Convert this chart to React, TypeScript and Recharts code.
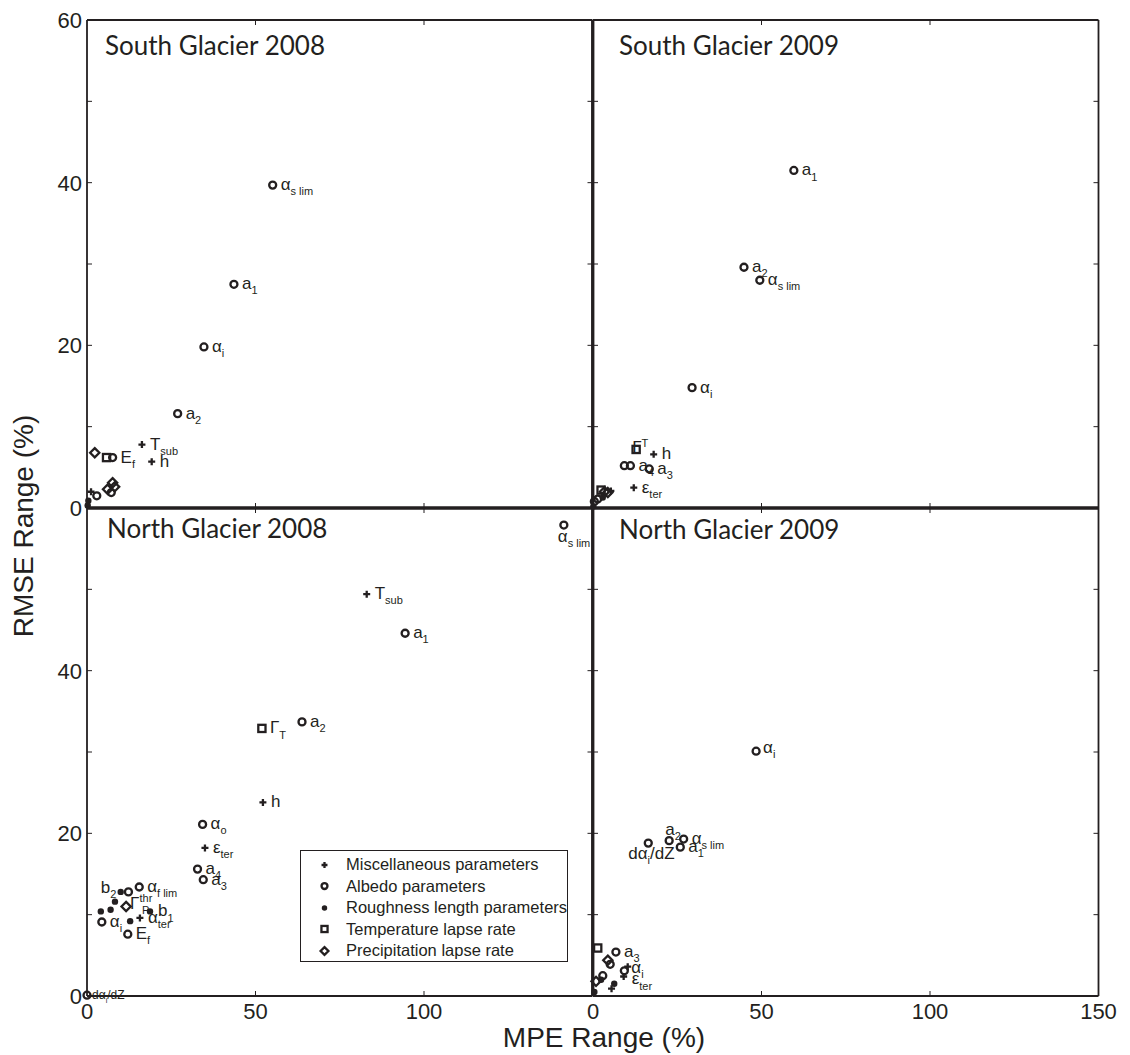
import React from 'react';
import { ScatterChart, Scatter, XAxis, YAxis, Legend } from 'recharts';

const INK = '#231f20';
const SANS = '"Liberation Sans", Arial, Helvetica, sans-serif';
const TITLE_FONT = 'Lato, "Open Sans", sans-serif';

type Pt = { x: number; y: number; label?: string; sub?: string; sup?: string; post?: string };

// series names / marker kinds, same order in every panel
const seriesNames = [
  'Miscellaneous parameters',
  'Albedo parameters',
  'Roughness length parameters',
  'Temperature lapse rate',
  'Precipitation lapse rate',
];
const seriesKinds = ['plus', 'circle', 'dot', 'square', 'diamond'];

const xTicks = [0, 50, 100, 150];
const xTopTicks = [50, 100];
const yTicks = [0, 10, 20, 30, 40, 50, 60];
const yRightTicks = [10, 20, 30, 40, 50];

// South Glacier 2008
const south08Misc: Pt[] = [
  { x: 16.3, y: 7.8, label: 'T', sub: 'sub' },
  { x: 19.2, y: 5.7, label: 'h' },
  { x: 1.2, y: 2.0 },
];
const south08Albedo: Pt[] = [
  { x: 55.1, y: 39.7, label: 'α', sub: 's lim' },
  { x: 43.6, y: 27.5, label: 'a', sub: '1' },
  { x: 34.7, y: 19.8, label: 'α', sub: 'i' },
  { x: 26.9, y: 11.6, label: 'a', sub: '2' },
  { x: 7.6, y: 6.2, label: 'E', sub: 'f' },
  { x: 7.2, y: 1.9 },
  { x: 2.9, y: 1.5 },
];
const south08Rough: Pt[] = [{ x: 0.4, y: 0.9 }, { x: 0.2, y: 0.3 }];
const south08Temp: Pt[] = [{ x: 5.8, y: 6.2 }];
const south08Precip: Pt[] = [
  { x: 2.3, y: 6.8 },
  { x: 6.1, y: 2.3 },
  { x: 7.6, y: 3.1 },
  { x: 8.2, y: 2.6 },
];

// South Glacier 2009
const south09Misc: Pt[] = [
  { x: 18.0, y: 6.6, label: 'h' },
  { x: 12.1, y: 2.5, label: 'ε', sub: 'ter' },
  { x: 5.3, y: 2.1 },
];
const south09Albedo: Pt[] = [
  { x: 59.6, y: 41.5, label: 'a', sub: '1' },
  { x: 44.8, y: 29.6, label: 'a', sub: '2' },
  { x: 49.5, y: 28.0, label: 'α', sub: 's lim' },
  { x: 29.4, y: 14.8, label: 'α', sub: 'i' },
  { x: 9.3, y: 5.2 },
  { x: 11.1, y: 5.2, label: 'a', sub: '4' },
  { x: 16.7, y: 4.8, label: 'a', sub: '3' },
  { x: 1.4, y: 1.1 },
  { x: 0.4, y: 0.8 },
];
const south09Rough: Pt[] = [{ x: 2.9, y: 1.3 }, { x: 0.1, y: 0.2 }];
const south09Temp: Pt[] = [{ x: 12.8, y: 7.2, label: 'Γ', sup: 'T' }, { x: 2.4, y: 2.2 }];
const south09Precip: Pt[] = [{ x: 3.4, y: 2.0 }, { x: 4.4, y: 1.9 }];

// North Glacier 2008
const north08Misc: Pt[] = [
  { x: 83.0, y: 49.4, label: 'T', sub: 'sub' },
  { x: 52.2, y: 23.8, label: 'h' },
  { x: 35.0, y: 18.2, label: 'ε', sub: 'ter' },
  { x: 15.7, y: 9.6, label: 'α', sub: 'ter' },
];
const north08Albedo: Pt[] = [
  { x: 141.5, y: 57.9, label: 'α', sub: 's lim' },
  { x: 94.4, y: 44.6, label: 'a', sub: '1' },
  { x: 63.8, y: 33.7, label: 'a', sub: '2' },
  { x: 34.3, y: 21.1, label: 'α', sub: 'o' },
  { x: 32.8, y: 15.6, label: 'a', sub: '4' },
  { x: 34.5, y: 14.3, label: 'a', sub: '3' },
  { x: 15.5, y: 13.4, label: 'α', sub: 'f lim' },
  { x: 12.3, y: 12.8 },
  { x: 4.4, y: 9.1, label: 'α', sub: 'i' },
  { x: 12.1, y: 7.6, label: 'E', sub: 'f' },
  { x: 0.0, y: 0.1, label: 'dα', sub: 'i', post: '/dZ' },
];
const north08Rough: Pt[] = [
  { x: 10.0, y: 12.8, label: 'b', sub: '2' },
  { x: 8.3, y: 11.6 },
  { x: 4.1, y: 10.4 },
  { x: 7.0, y: 10.6 },
  { x: 18.7, y: 10.4, label: 'b', sub: '1' },
  { x: 12.8, y: 9.2 },
];
const north08Temp: Pt[] = [{ x: 51.9, y: 32.9, label: 'Γ', sub: 'T' }];
const north08Precip: Pt[] = [{ x: 11.6, y: 11.0, label: 'Γ', sup: 'thr', sub: 'P' }];

// North Glacier 2009
const north09Misc: Pt[] = [
  { x: 10.3, y: 3.6 },
  { x: 9.1, y: 2.4, label: 'ε', sub: 'ter' },
  { x: 5.5, y: 0.9 },
];
const north09Albedo: Pt[] = [
  { x: 48.4, y: 30.1, label: 'α', sub: 'i' },
  { x: 16.4, y: 18.8, label: 'dα', sub: 'i', post: '/dZ' },
  { x: 22.6, y: 19.1, label: 'a', sub: '2' },
  { x: 26.9, y: 19.3, label: 'α', sub: 's lim' },
  { x: 25.9, y: 18.3, label: 'a', sub: '1' },
  { x: 6.8, y: 5.4, label: 'a', sub: '3' },
  { x: 5.1, y: 3.9 },
  { x: 9.3, y: 3.1, label: 'α', sub: 'i' },
  { x: 2.9, y: 2.5 },
];
const north09Rough: Pt[] = [{ x: 6.3, y: 1.5 }, { x: 0.4, y: 0.5 }, { x: 2.4, y: 2.0 }];
const north09Temp: Pt[] = [{ x: 1.4, y: 5.9 }];
const north09Precip: Pt[] = [{ x: 4.4, y: 4.4 }, { x: 0.9, y: 1.8 }];

// label placement tweaks (everything else sits just right of its marker)
const labelNudge: Record<string, { dx: number; dy: number; fs?: number }> = {
  'n08:α s lim': { dx: -6, dy: 17 },
  'n08:dα i': { dx: 5, dy: 4, fs: 12 },
  'n08:b 2': { dx: -20, dy: 1 },
  'n08:Γ P': { dx: 4, dy: 2 },
  'n09:a 2': { dx: -4, dy: -6 },
  'n09:dα i': { dx: -20, dy: 16 },
  'n09:α i': { dx: 7, dy: 2 },
  'n09:ε ter': { dx: 8, dy: 8 },
  's09:Γ ': { dx: -4, dy: 4 },
};

const M = 70;
const TICK = 5;

function Marker({ kind, cx, cy, s = 1 }: { kind: string; cx: number; cy: number; s?: number }) {
  switch (kind) {
    case 'plus':
      return (
        <path
          d={`M${cx - 3.5 * s},${cy}H${cx + 3.5 * s}M${cx},${cy - 3.5 * s}V${cy + 3.5 * s}`}
          stroke={INK}
          strokeWidth={2.3}
        />
      );
    case 'circle':
      return <circle cx={cx} cy={cy} r={3.5 * s} fill="none" stroke={INK} strokeWidth={2.3} />;
    case 'dot':
      return <circle cx={cx} cy={cy} r={3.2 * s} fill={INK} />;
    case 'square':
      return (
        <rect
          x={cx - 3.6 * s}
          y={cy - 3.6 * s}
          width={7.2 * s}
          height={7.2 * s}
          fill="none"
          stroke={INK}
          strokeWidth={2.3}
        />
      );
    default:
      return (
        <path
          d={`M${cx},${cy - 4.6 * s}L${cx + 4.6 * s},${cy}L${cx},${cy + 4.6 * s}L${cx - 4.6 * s},${cy}Z`}
          fill="none"
          stroke={INK}
          strokeWidth={2.3}
        />
      );
  }
}

function PointLabel({ cx, cy, pt, panel }: { cx: number; cy: number; pt: Pt; panel: string }) {
  if (!pt.label) return null;
  const nudge = labelNudge[`${panel}:${pt.label} ${pt.sub ?? ''}`] || { dx: 8, dy: 5 };
  const fs = nudge.fs ?? 17;
  const sfs = Math.round(fs * 0.62);
  const x0 = cx + nudge.dx;
  const y0 = cy + nudge.dy;
  return (
    <text x={x0} y={y0} fontSize={fs} fill={INK} fontFamily={SANS}>
      {pt.label}
      {pt.sup && (
        <tspan dy={-fs * 0.4} fontSize={sfs}>
          {pt.sup}
        </tspan>
      )}
      {pt.sub && (
        <tspan
          x={pt.sup ? x0 + fs * 0.7 : undefined}
          dy={pt.sup ? fs * 0.7 : fs * 0.3}
          fontSize={sfs}
        >
          {pt.sub}
        </tspan>
      )}
      {pt.post && (
        <tspan dy={-fs * 0.3} fontSize={fs}>
          {pt.post}
        </tspan>
      )}
    </text>
  );
}

function makeXTick(side: 'top' | 'bottom', labels: number[]) {
  return (props: any) => {
    const { x, y, payload } = props;
    const v = payload.value;
    const dir = side === 'bottom' ? -1 : 1;
    return (
      <g>
        {v > 0 && v < 150 && <line x1={x} y1={y} x2={x} y2={y + dir * TICK} stroke={INK} strokeWidth={1} />}
        {labels.includes(v) && (
          <text x={x} y={y + 23} textAnchor="middle" fontSize={22} fontFamily={SANS} fill={INK}>
            {v}
          </text>
        )}
      </g>
    );
  };
}

function makeYTick(side: 'left' | 'right', labels: number[]) {
  return (props: any) => {
    const { x, y, payload } = props;
    const v = payload.value;
    const dir = side === 'left' ? 1 : -1;
    return (
      <g>
        {v > 0 && v < 60 && <line x1={x} y1={y} x2={x + dir * TICK} y2={y} stroke={INK} strokeWidth={1} />}
        {labels.includes(v) && (
          <text x={x - 5} y={y + 8} textAnchor="end" fontSize={22} fontFamily={SANS} fill={INK}>
            {v}
          </text>
        )}
      </g>
    );
  };
}

const renderLegend = (props: any) => {
  const payload = [...(props.payload || [])].sort(
    (a: any, b: any) => seriesNames.indexOf(a.value) - seriesNames.indexOf(b.value),
  );
  return (
    <div
      style={{
        width: 268,
        height: 112,
        border: `1.5px solid ${INK}`,
        boxSizing: 'border-box',
        background: '#fff',
        paddingTop: 3,
      }}
    >
      {payload.map((e: any) => {
        const kind = seriesKinds[seriesNames.indexOf(e.value)];
        return (
          <div
            key={e.value}
            style={{
              display: 'flex',
              alignItems: 'center',
              height: 21.5,
              fontFamily: SANS,
              fontSize: 16.5,
              color: INK,
              whiteSpace: 'nowrap',
            }}
          >
            <svg width={45} height={20} style={{ flex: 'none' }}>
              <Marker kind={kind} cx={23.5} cy={10} s={0.85} />
            </svg>
            <span>{e.value}</span>
          </div>
        );
      })}
    </div>
  );
};

type PanelProps = {
  id: string;
  px: number;
  py: number;
  pw: number;
  ph: number;
  series: Pt[][];
  xLabels: number[];
  yLabels: number[];
  edges: { top: number; right: number; bottom: number; left: number };
  showLegend?: boolean;
};

function Panel({ id, px, py, pw, ph, series, xLabels, yLabels, edges, showLegend }: PanelProps) {
  // axes are 1px thick so recharts draws them; margins shrink by 1 to keep the plot box in place
  const m = M - 1;
  return (
    <div style={{ position: 'absolute', left: px - M, top: py - M }}>
      <ScatterChart width={pw + 2 * M} height={ph + 2 * M} margin={{ top: m, right: m, bottom: m, left: m }}>
        <XAxis
          xAxisId="b"
          type="number"
          dataKey="x"
          domain={[0, 150]}
          ticks={xTicks}
          interval={0}
          orientation="bottom"
          height={1}
          tickSize={0}
          tickMargin={0}
          tickLine={false}
          axisLine={{ stroke: INK, strokeWidth: edges.bottom }}
          tick={makeXTick('bottom', xLabels)}
        />
        <XAxis
          xAxisId="t"
          type="number"
          dataKey="x"
          domain={[0, 150]}
          ticks={xTopTicks}
          interval={0}
          orientation="top"
          height={1}
          tickSize={0}
          tickMargin={0}
          tickLine={false}
          axisLine={{ stroke: INK, strokeWidth: edges.top }}
          tick={makeXTick('top', [])}
          allowDataOverflow
        />
        <YAxis
          yAxisId="l"
          type="number"
          dataKey="y"
          domain={[0, 60]}
          ticks={yTicks}
          interval={0}
          orientation="left"
          width={1}
          tickSize={0}
          tickMargin={0}
          tickLine={false}
          axisLine={{ stroke: INK, strokeWidth: edges.left }}
          tick={makeYTick('left', yLabels)}
        />
        <YAxis
          yAxisId="r"
          type="number"
          dataKey="y"
          domain={[0, 60]}
          ticks={yRightTicks}
          interval={0}
          orientation="right"
          width={1}
          tickSize={0}
          tickMargin={0}
          tickLine={false}
          axisLine={{ stroke: INK, strokeWidth: edges.right }}
          tick={makeYTick('right', [])}
          allowDataOverflow
        />
        {series.map((data, i) => (
          <Scatter
            key={seriesNames[i]}
            name={seriesNames[i]}
            data={data}
            xAxisId="b"
            yAxisId="l"
            fill={INK}
            isAnimationActive={false}
            shape={(p: any) => (
              <g>
                <Marker kind={seriesKinds[i]} cx={p.cx} cy={p.cy} />
                <PointLabel cx={p.cx} cy={p.cy} pt={p.payload} panel={id} />
              </g>
            )}
          />
        ))}
        {showLegend && (
          <Legend
            layout="vertical"
            align="center"
            verticalAlign="middle"
            content={renderLegend}
            wrapperStyle={{ left: 283, top: 412, width: 268, height: 112 }}
          />
        )}
      </ScatterChart>
    </div>
  );
}

const OUT = 1.8;
const IN = 2.8;

export default function App() {
  const X0 = 87;
  const XM = 592.5;
  const W = 505.5;
  const Y0 = 20;
  const YM = 508;
  const H = 488;
  return (
    <div style={{ position: 'absolute', left: 0, top: 0, width: 1130, height: 1055, background: '#fff' }}>
      <Panel
        id="s08"
        px={X0}
        py={Y0}
        pw={W}
        ph={H}
        series={[south08Misc, south08Albedo, south08Rough, south08Temp, south08Precip]}
        xLabels={[]}
        yLabels={[0, 20, 40, 60]}
        edges={{ top: OUT, left: OUT, right: IN, bottom: IN }}
      />
      <Panel
        id="s09"
        px={XM}
        py={Y0}
        pw={W}
        ph={H}
        series={[south09Misc, south09Albedo, south09Rough, south09Temp, south09Precip]}
        xLabels={[]}
        yLabels={[]}
        edges={{ top: OUT, left: IN, right: OUT, bottom: IN }}
      />
      <Panel
        id="n08"
        px={X0}
        py={YM}
        pw={W}
        ph={H}
        series={[north08Misc, north08Albedo, north08Rough, north08Temp, north08Precip]}
        xLabels={[0, 50, 100]}
        yLabels={[0, 20, 40]}
        edges={{ top: IN, left: OUT, right: IN, bottom: OUT }}
        showLegend
      />
      <Panel
        id="n09"
        px={XM}
        py={YM}
        pw={W}
        ph={H}
        series={[north09Misc, north09Albedo, north09Rough, north09Temp, north09Precip]}
        xLabels={[0, 50, 100, 150]}
        yLabels={[]}
        edges={{ top: IN, left: IN, right: OUT, bottom: OUT }}
      />
      <svg width={1130} height={1055} style={{ position: 'absolute', left: 0, top: 0, pointerEvents: 'none' }}>
        <g fontFamily={TITLE_FONT} fontSize={26} fill={INK}>
          <text x={105} y={55}>South Glacier 2008</text>
          <text x={619} y={55}>South Glacier 2009</text>
          <text x={107} y={538}>North Glacier 2008</text>
          <text x={619} y={539}>North Glacier 2009</text>
        </g>
        <g fontFamily={SANS} fontSize={28} fill={INK}>
          <text transform="translate(33,526) rotate(-90)" textAnchor="middle">
            RMSE Range (%)
          </text>
          <text x={604} y={1047} textAnchor="middle">
            MPE Range (%)
          </text>
        </g>
      </svg>
    </div>
  );
}
